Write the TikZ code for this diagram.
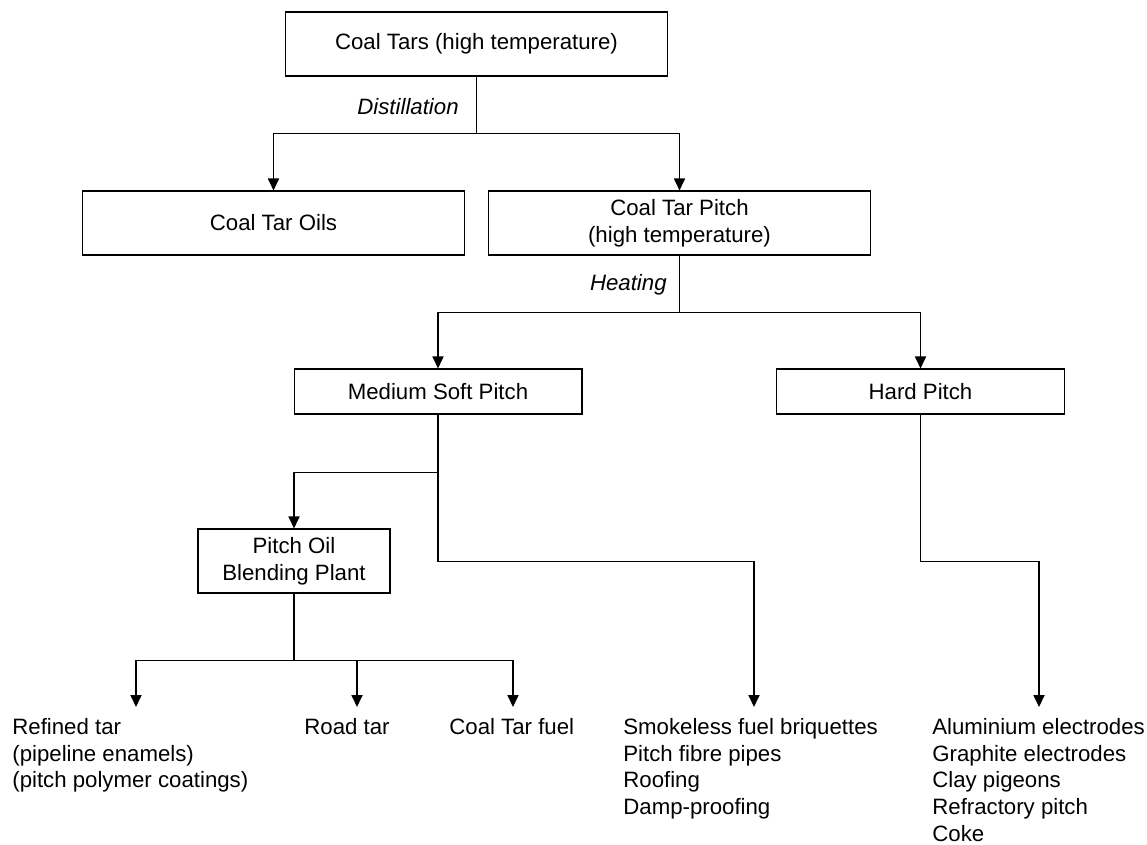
\documentclass[tikz,border=0pt]{standalone}
\usepackage{fontspec}
\setmainfont{Liberation Sans}
\usetikzlibrary{positioning}
\usetikzlibrary{arrows.meta}

\newcommand{\chartfont}{\fontsize{12.65pt}{15.2pt}\selectfont}

\tikzset{
	box/.style = {draw = black, line width = 0.6pt, align = center, inner sep = 0pt},
	wide box/.style = {box, minimum width = 7.66cm, minimum height = 1.28cm},
	mid box/.style = {box, minimum width = 5.76cm, minimum height = 0.9cm},
	small box/.style = {box, minimum width = 3.84cm, minimum height = 1.28cm},
	product/.style = {anchor = north west, align = left, inner sep = 0pt},
	proc/.style = {anchor = base east, inner sep = 0pt, font = {\chartfont\itshape}},
	link/.style = {line width = 1pt},
	arr/.style = {link, -{Triangle[length = 2.4mm, width = 2.2mm]}}
}

\begin{document}
\begin{tikzpicture}[x = 0.02cm, y = -0.02cm, font = \chartfont]
				\useasboundingbox (0, 0) rectangle (1147, 845);
				\node[wide box] (tars) at (476.5, 44) {Coal Tars (high temperature)};
				\node[wide box] (oils) at (273.5, 223) {Coal Tar Oils};
				\node[wide box] (ctpitch) at (679.5, 223) {Coal Tar Pitch\\(high temperature)};
				\node[mid box] (soft) at (438, 391.5) {Medium Soft Pitch};
				\node[mid box] (hard) at (920.5, 391.5) {Hard Pitch};
				\node[small box] (blend) at (294, 561) {Pitch Oil\\Blending Plant};
				\node[proc] (distil) at (459, 114) {Distillation};
				\node[proc] (heat) at (667, 290) {Heating};
				\node[product] (refined) at (12, 718) {Refined tar\\(pipeline enamels)\\(pitch polymer coatings)};
				\node[product] (road) at (304, 718) {Road tar};
				\node[product] (fuel) at (449, 718) {Coal Tar fuel};
				\node[product] (smokeless) at (623, 718) {Smokeless fuel briquettes\\Pitch fibre pipes\\Roofing\\Damp-proofing};
				\node[product] (electrodes) at (932, 718) {Aluminium electrodes\\Graphite electrodes\\Clay pigeons\\Refractory pitch\\Coke};
				\coordinate (refinedend) at (136, 707);
				\coordinate (roadend) at (357, 707);
				\coordinate (fuelend) at (513, 707);
				\coordinate (smokeend) at (754, 707);
				\coordinate (hardend) at (1039, 707);
				\draw[link] (tars.south) -- ++(0, 57) coordinate (distfork);
				\draw[arr] (distfork) -| (oils.north);
				\draw[arr] (distfork) -| (ctpitch.north);
				\draw[link] (ctpitch.south) -- ++(0, 57) coordinate (heatfork);
				\draw[arr] (heatfork) -| (soft.north);
				\draw[arr] (heatfork) -| (hard.north);
				\draw[arr] (soft.south) -- ++(0, 58) -| (blend.north);
				\draw[arr] (soft.south) -- ++(0, 147) -| (smokeend);
				\draw[arr] (hard.south) -- ++(0, 147) -| (hardend);
				\draw[link] (blend.south) -- ++(0, 67) coordinate (blendfork);
				\draw[arr] (blendfork) -| (refinedend);
				\draw[arr] (blendfork) -| (roadend);
				\draw[arr] (blendfork) -| (fuelend);
			\end{tikzpicture}
\end{document}
